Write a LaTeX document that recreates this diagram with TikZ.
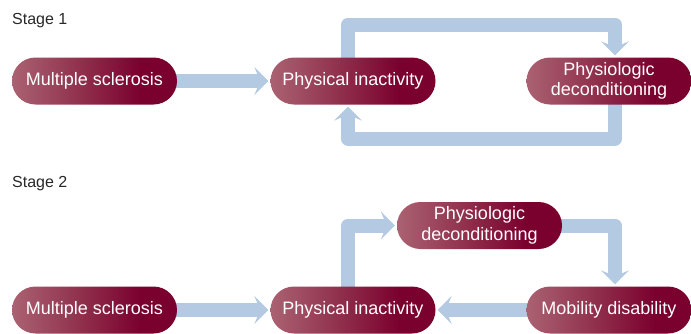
\documentclass[tikz,border=0pt]{standalone}
\usepackage{fontspec}
\setmainfont{Liberation Sans}
\usetikzlibrary{arrows.meta,backgrounds}
\definecolor{pilllight}{RGB}{170,98,114}
\definecolor{pillmid}{RGB}{145,50,78}
\definecolor{pilldark}{RGB}{122,0,46}
\definecolor{flowblue}{RGB}{180,201,226}
\definecolor{stagegray}{RGB}{40,40,40}
\pgfdeclarehorizontalshading{pillshade}{100bp}{color(0bp)=(pilllight); color(25bp)=(pilllight); color(45bp)=(pillmid); color(64bp)=(pilldark); color(100bp)=(pilldark)}
\begin{document}
\begin{tikzpicture}[x=1pt,y=-1pt,
  pill/.style={rectangle, rounded corners=23.5pt, minimum width=165pt, minimum height=47pt,
    inner sep=0pt, shading=pillshade, text=white, align=center,
    font=\fontsize{18}{20.5}\selectfont},
  flow/.style={draw=flowblue, line width=14pt, line join=round,
    -{Stealth[length=14pt,width=28pt,inset=6pt,line width=0pt,fill=flowblue]},
    shorten >=2pt, shorten <=-3pt},
  stagelabel/.style={anchor=base west, inner sep=0pt, text=stagegray,
    font=\fontsize{16}{18}\selectfont}]
\useasboundingbox (0,0) rectangle (691,333);
% Stage 1
\node[stagelabel] (s1) at (12,24) {Stage 1};
\node[pill] (ms1) at (94.5,81) {Multiple sclerosis};
\node[pill] (pi1) at (353,81) {Physical inactivity};
\node[pill] (pd1) at (609,81) {Physiologic\\deconditioning};
\coordinate (l1tr) at (615,24.5);
\coordinate (l1br) at (615,138.5);
% Stage 2
\node[stagelabel] (s2) at (12,187) {Stage 2};
\node[pill] (ms2) at (94.5,310) {Multiple sclerosis};
\node[pill] (pi2) at (353,310) {Physical inactivity};
\node[pill] (pd2) at (479.5,225.5) {Physiologic\\deconditioning};
\node[pill] (mb) at (609,310) {Mobility disability};
\begin{scope}[on background layer]
\draw[flow] (ms1) -- (pi1);
\draw[flow] ([xshift=-5pt]pi1.north) |- (l1tr) -- ([xshift=6pt]pd1.north);
\draw[flow] ([xshift=6pt]pd1.south) -- (l1br) -| ([xshift=-5pt]pi1.south);
\draw[flow] (ms2) -- (pi2);
\draw[flow] ([xshift=-5pt]pi2.north) |- (pd2.west);
\draw[flow] (pd2.east) -| ([xshift=6pt]mb.north);
\draw[flow] (mb) -- (pi2);
\end{scope}
\end{tikzpicture}
\end{document}
